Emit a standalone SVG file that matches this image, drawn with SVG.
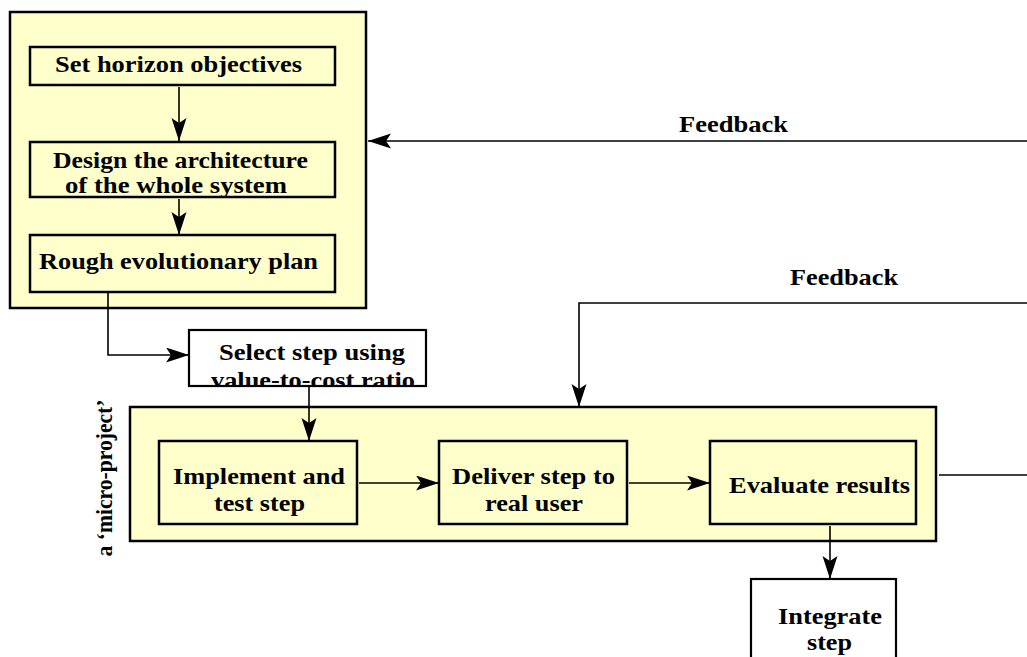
<svg xmlns="http://www.w3.org/2000/svg" width="1027" height="657" viewBox="0 0 1027 657">
<style>
.t{font-family:"Liberation Serif","Times New Roman",serif;font-weight:bold;font-size:23.5px;fill:#000}
.y{fill:#FFFFCC;stroke:#000;stroke-width:2.5}
.w{fill:#FFFFFF;stroke:#000;stroke-width:2.2}
.c{fill:none;stroke:#000;stroke-width:1.6}
</style>
<defs>
<marker id="ah" markerUnits="userSpaceOnUse" markerWidth="26" markerHeight="16" refX="23" refY="7.5" orient="auto">
<path d="M0,0 L23,7.5 L0,15 L5,7.5 Z" fill="#000"/>
</marker>
<clipPath id="selclip"><rect x="189" y="330" width="237" height="56"/></clipPath>
</defs>
<rect width="1027" height="657" fill="#fff"/>

<g id="planning">
<rect class="y" x="10" y="12" width="356" height="296" stroke-width="2.8"/>
</g>
<g id="set-horizon">
<rect class="y" x="30" y="47" width="305" height="38"/>
<text class="t" x="55" y="72" textLength="247" lengthAdjust="spacingAndGlyphs">Set horizon objectives</text>
</g>
<g id="design-architecture">
<rect class="y" x="30" y="142" width="305" height="55"/>
<text class="t" x="53" y="168" textLength="255" lengthAdjust="spacingAndGlyphs">Design the architecture</text>
<text class="t" x="65" y="193" textLength="222" lengthAdjust="spacingAndGlyphs">of the whole system</text>
</g>
<g id="rough-plan">
<rect class="y" x="30" y="235" width="305" height="57"/>
<text class="t" x="39" y="269" textLength="279" lengthAdjust="spacingAndGlyphs">Rough evolutionary plan</text>
</g>

<g id="select-step">
<rect x="189" y="330" width="237" height="56" fill="#fff"/>
<g clip-path="url(#selclip)">
<text class="t" x="219" y="360" textLength="186" lengthAdjust="spacingAndGlyphs">Select step using</text>
<text class="t" x="211" y="388" textLength="204" lengthAdjust="spacingAndGlyphs">value-to-cost ratio</text>
</g>
<rect x="189" y="330" width="237" height="56" fill="none" stroke="#000" stroke-width="2.2"/>
</g>

<g id="micro-project">
<rect class="y" x="130" y="407" width="806" height="134" stroke-width="2.8"/>
<text class="t" transform="translate(112,478) rotate(-90)" text-anchor="middle" textLength="157" lengthAdjust="spacingAndGlyphs">a ‘micro-project’</text>
</g>
<g id="implement">
<rect class="y" x="159" y="441" width="198" height="83"/>
<text class="t" x="173" y="484" textLength="172" lengthAdjust="spacingAndGlyphs">Implement and</text>
<text class="t" x="214" y="511" textLength="91" lengthAdjust="spacingAndGlyphs">test step</text>
</g>
<g id="deliver">
<rect class="y" x="439" y="441" width="188" height="83"/>
<text class="t" x="452" y="484" textLength="163" lengthAdjust="spacingAndGlyphs">Deliver step to</text>
<text class="t" x="485" y="511" textLength="98" lengthAdjust="spacingAndGlyphs">real user</text>
</g>
<g id="evaluate">
<rect class="y" x="710" y="441" width="206" height="83"/>
<text class="t" x="729" y="493" textLength="181" lengthAdjust="spacingAndGlyphs">Evaluate results</text>
</g>
<g id="integrate">
<rect class="w" x="751" y="579" width="145" height="100"/>
<text class="t" x="778" y="624" textLength="104" lengthAdjust="spacingAndGlyphs">Integrate</text>
<text class="t" x="807" y="650" textLength="45" lengthAdjust="spacingAndGlyphs">step</text>
</g>

<g id="connectors">
<line class="c" x1="179" y1="87" x2="179" y2="141" marker-end="url(#ah)"/>
<line class="c" x1="179" y1="199" x2="179" y2="235" marker-end="url(#ah)"/>
<path class="c" d="M108,293 L108,355 L189,355" marker-end="url(#ah)"/>
<line class="c" x1="309" y1="387" x2="309" y2="441" marker-end="url(#ah)"/>
<line class="c" x1="359" y1="483" x2="439" y2="483" marker-end="url(#ah)"/>
<line class="c" x1="629" y1="483" x2="710" y2="483" marker-end="url(#ah)"/>
<line class="c" x1="830" y1="526" x2="830" y2="579" marker-end="url(#ah)"/>
<line class="c" x1="939" y1="475" x2="1027" y2="475"/>
<line class="c" x1="1027" y1="141" x2="368" y2="141" marker-end="url(#ah)"/>
<path class="c" d="M1027,303 L579,303 L579,407" marker-end="url(#ah)"/>
<text class="t" x="679" y="132" textLength="109" lengthAdjust="spacingAndGlyphs">Feedback</text>
<text class="t" x="790" y="285" textLength="108" lengthAdjust="spacingAndGlyphs">Feedback</text>
</g>
</svg>
